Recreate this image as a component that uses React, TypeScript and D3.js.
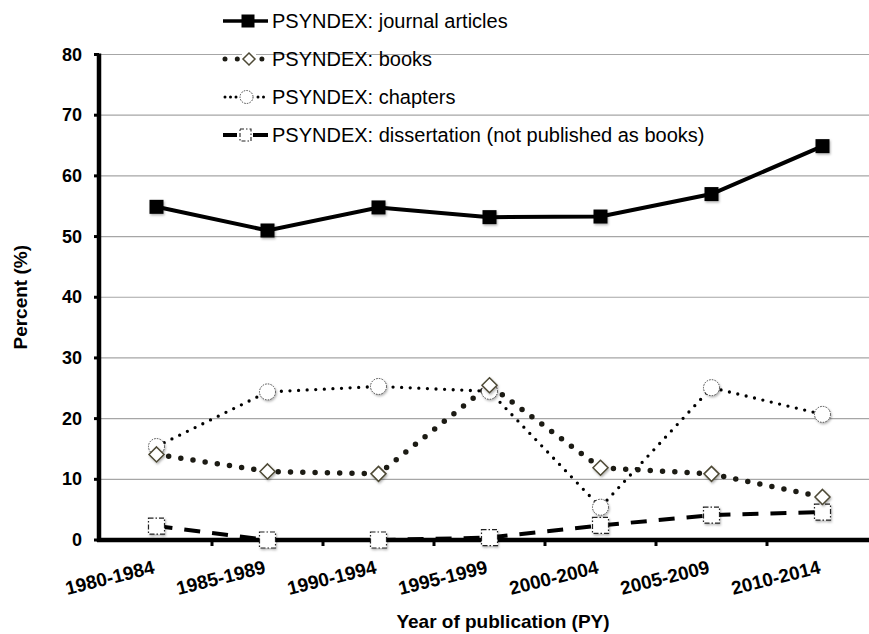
import React from "react";
import * as d3 from "d3";

const categories = ["1980-1984", "1985-1989", "1990-1994", "1995-1999", "2000-2004", "2005-2009", "2010-2014"];
const journal = [54.9, 51.0, 54.8, 53.2, 53.3, 57.0, 64.9];
const books = [14.1, 11.3, 10.9, 25.5, 11.9, 10.9, 7.1];
const chapters = [15.4, 24.4, 25.3, 24.5, 5.4, 25.1, 20.7];
const dissertation = [2.3, 0, 0, 0.4, 2.4, 4.1, 4.6];
const yTicks = [0, 10, 20, 30, 40, 50, 60, 70, 80];

const legendLabels = [
  "PSYNDEX: journal articles",
  "PSYNDEX: books",
  "PSYNDEX: chapters",
  "PSYNDEX: dissertation (not published as books)",
];

const W = 869;
const H = 634;
const FONT = "'Liberation Sans', Arial, sans-serif";

export default function App() {
  const x = d3.scaleBand<string>().domain(categories).range([101, 878]);
  const y = d3.scaleLinear().domain([0, 80]).range([540, 54.5]);
  const cx = (c: string) => (x(c) ?? 0) + x.bandwidth() / 2;

  const line = d3
    .line<number>()
    .x((_, i) => cx(categories[i]))
    .y((d) => y(d));

  const diamond = (s: number) => `M0,${-s}L${s},0L0,${s}L${-s},0Z`;

  // legend sample x range
  const lx0 = 223;
  const lx1 = 268;
  const lmid = 248;
  const ly = [21, 59, 97, 135];

  return (
    <div style={{ position: "absolute", left: 0, top: 0 }}>
      <svg width={W} height={H} style={{ display: "block", background: "#fff" }}>
        <defs>
          <filter id="shadow" x="-50%" y="-50%" width="200%" height="200%">
            <feDropShadow dx="1" dy="1.5" stdDeviation="1" floodColor="#000" floodOpacity="0.3" />
          </filter>
        </defs>

        {/* grid */}
        {yTicks.slice(1).map((t) => (
          <line key={t} x1={101} x2={W} y1={y(t)} y2={y(t)} stroke="#a6a6a6" strokeWidth={1.2} />
        ))}

        {/* y axis */}
        <line x1={99} x2={99} y1={y(80) - 1} y2={542} stroke="#000" strokeWidth={4.5} />
        {yTicks.map((t) => (
          <g key={t}>
            <line x1={94} x2={99} y1={y(t)} y2={y(t)} stroke="#000" strokeWidth={3} />
            <text
              x={82}
              y={y(t)}
              textAnchor="end"
              dominantBaseline="central"
              fontFamily={FONT}
              fontWeight="bold"
              fontSize={18}
            >
              {t}
            </text>
          </g>
        ))}

        {/* x axis */}
        <line x1={97} x2={W} y1={540} y2={540} stroke="#000" strokeWidth={4.5} />
        {categories.map((c) => (
          <line
            key={c}
            x1={(x(c) ?? 0) + x.bandwidth()}
            x2={(x(c) ?? 0) + x.bandwidth()}
            y1={540}
            y2={546}
            stroke="#000"
            strokeWidth={3}
          />
        ))}
        {categories.map((c) => (
          <text
            key={c}
            transform={`translate(${cx(c) - 1},573) rotate(-14)`}
            textAnchor="end"
            fontFamily={FONT}
            fontWeight="bold"
            fontSize={19}
          >
            {c}
          </text>
        ))}

        {/* axis titles */}
        <text x={503} y={628} textAnchor="middle" fontFamily={FONT} fontWeight="bold" fontSize={19}>
          Year of publication (PY)
        </text>
        <text
          transform={`translate(27,${(y(0) + y(80)) / 2}) rotate(-90)`}
          textAnchor="middle"
          fontFamily={FONT}
          fontWeight="bold"
          fontSize={19}
        >
          Percent (%)
        </text>

        {/* series lines */}
        <path d={line(dissertation) ?? ""} fill="none" stroke="#000" strokeWidth={4} strokeDasharray="16 12" />
        <path
          d={line(chapters) ?? ""}
          fill="none"
          stroke="#000"
          strokeWidth={3.3}
          strokeDasharray="0 8.6"
          strokeLinecap="round"
        />
        <path
          d={line(books) ?? ""}
          fill="none"
          stroke="#1c1b14"
          strokeWidth={5.5}
          strokeDasharray="0 12.3"
          strokeLinecap="round"
        />
        <path d={line(journal) ?? ""} fill="none" stroke="#000" strokeWidth={4} />

        {/* markers */}
        {dissertation.map((v, i) => (
          <rect
            key={`d${i}`}
            x={cx(categories[i]) - 8}
            y={y(v) - 8}
            width={16}
            height={16}
            fill="#fff"
            stroke="#222"
            strokeWidth={1.2}
            strokeDasharray="5 2 1.5 2"
            filter="url(#shadow)"
          />
        ))}
        {chapters.map((v, i) => (
          <circle
            key={`c${i}`}
            cx={cx(categories[i])}
            cy={y(v)}
            r={8}
            fill="#fff"
            stroke="#444"
            strokeWidth={1}
            strokeDasharray="1.5 1.2"
            filter="url(#shadow)"
          />
        ))}
        {books.map((v, i) => (
          <path
            key={`b${i}`}
            d={diamond(7.5)}
            transform={`translate(${cx(categories[i])},${y(v)})`}
            fill="#fff"
            stroke="#4d4935"
            strokeWidth={1.5}
            filter="url(#shadow)"
          />
        ))}
        {journal.map((v, i) => (
          <rect
            key={`j${i}`}
            x={cx(categories[i]) - 7}
            y={y(v) - 7}
            width={14}
            height={14}
            fill="#000"
            filter="url(#shadow)"
          />
        ))}

        {/* legend */}
        <g>
          <line x1={lx0} x2={lx1} y1={ly[0]} y2={ly[0]} stroke="#000" strokeWidth={3.5} />
          <rect x={lmid - 6.5} y={ly[0] - 6.5} width={13} height={13} fill="#000" />

          <line
            x1={225}
            x2={263}
            y1={ly[1]}
            y2={ly[1]}
            stroke="#1c1b14"
            strokeWidth={5}
            strokeDasharray="0 12.3"
            strokeLinecap="round"
          />
          <rect x={242} y={ly[1] - 7} width={14} height={14} fill="#fff" />
          <path d={diamond(6)} transform={`translate(249,${ly[1]})`} fill="#fff" stroke="#4d4935" strokeWidth={1.5} />

          <line
            x1={225}
            x2={268}
            y1={ly[2]}
            y2={ly[2]}
            stroke="#000"
            strokeWidth={3}
            strokeDasharray="0 5.5"
            strokeLinecap="round"
          />
          <circle cx={246.5} cy={ly[2]} r={7.5} fill="#fff" />
          <circle cx={246.5} cy={ly[2]} r={6.5} fill="#fff" stroke="#444" strokeWidth={1} strokeDasharray="1.5 1.2" />

          <line x1={223} x2={237} y1={ly[3]} y2={ly[3]} stroke="#000" strokeWidth={4} />
          <line x1={253} x2={268} y1={ly[3]} y2={ly[3]} stroke="#000" strokeWidth={4} />
          <rect
            x={240}
            y={ly[3] - 6}
            width={11}
            height={12}
            fill="#fff"
            stroke="#222"
            strokeWidth={1.1}
            strokeDasharray="4 2 1.5 2"
          />

          {legendLabels.map((l, i) => (
            <text
              key={l}
              x={272}
              y={ly[i]}
              dominantBaseline="central"
              fontFamily={FONT}
              fontSize={20}
              fill="#000"
            >
              {l}
            </text>
          ))}
        </g>
      </svg>
    </div>
  );
}
